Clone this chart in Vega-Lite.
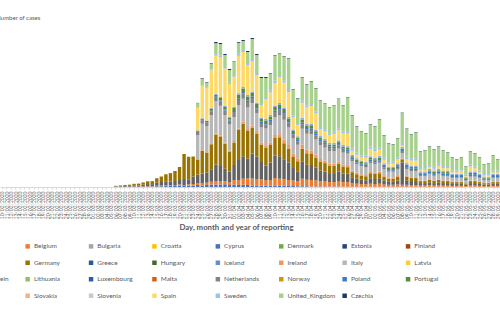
{
  "$schema": "https://vega.github.io/schema/vega-lite/v6.json",
  "width": 504.5,
  "height": 160,
  "autosize": {"type": "none"},
  "padding": {"left": 0, "top": 27, "right": 0, "bottom": 148},
  "background": "white",
  "config": {"view": {"stroke": null}, "font": "Lato", "axis": {"labelFont": "Lato", "titleFont": "Lato"}, "legend": {"labelFont": "Lato"}},
  "data": {"values": [
    {"d": "10/02/2020", "Italy": 0},
    {"d": "11/02/2020", "Italy": 0},
    {"d": "12/02/2020", "Italy": 0},
    {"d": "13/02/2020", "Italy": 0},
    {"d": "14/02/2020", "Italy": 0},
    {"d": "15/02/2020", "Italy": 0},
    {"d": "16/02/2020", "Italy": 0},
    {"d": "17/02/2020", "Italy": 0},
    {"d": "18/02/2020", "Italy": 0},
    {"d": "19/02/2020", "Italy": 0},
    {"d": "20/02/2020", "Italy": 0},
    {"d": "21/02/2020", "Italy": 20},
    {"d": "22/02/2020", "Italy": 60},
    {"d": "23/02/2020", "Italy": 50},
    {"d": "24/02/2020", "Italy": 100},
    {"d": "25/02/2020", "Germany": 5, "Italy": 90, "Spain": 2},
    {"d": "26/02/2020", "France": 15, "Germany": 10, "Italy": 80, "Spain": 5},
    {"d": "27/02/2020", "France": 20, "Germany": 20, "Italy": 200, "Spain": 10},
    {"d": "28/02/2020", "France": 20, "Germany": 25, "Italy": 150, "Netherlands": 5, "Spain": 10},
    {"d": "29/02/2020", "France": 30, "Germany": 40, "Italy": 170, "Spain": 20, "United_Kingdom": 10},
    {"d": "01/03/2020", "France": 40, "Germany": 50, "Italy": 280, "Spain": 20, "United_Kingdom": 10},
    {"d": "02/03/2020", "France": 50, "Germany": 40, "Italy": 300, "Netherlands": 10, "Spain": 30, "United_Kingdom": 10},
    {"d": "03/03/2020", "France": 40, "Germany": 50, "Italy": 350, "Netherlands": 20, "Spain": 40, "United_Kingdom": 10},
    {"d": "04/03/2020", "Belgium": 10, "France": 60, "Germany": 60, "Italy": 400, "Netherlands": 20, "Spain": 40, "United_Kingdom": 20},
    {"d": "05/03/2020", "Belgium": 10, "France": 90, "Germany": 100, "Italy": 600, "Netherlands": 30, "Spain": 60, "United_Kingdom": 20},
    {"d": "06/03/2020", "Austria": 10, "Belgium": 20, "France": 100, "Germany": 110, "Italy": 650, "Netherlands": 30, "Spain": 70, "United_Kingdom": 20},
    {"d": "07/03/2020", "Austria": 20, "Belgium": 20, "France": 120, "Germany": 150, "Italy": 800, "Netherlands": 40, "Spain": 120, "United_Kingdom": 30},
    {"d": "08/03/2020", "Austria": 30, "Belgium": 30, "France": 150, "Germany": 200, "Italy": 950, "Netherlands": 50, "Spain": 150, "United_Kingdom": 40},
    {"d": "09/03/2020", "Austria": 30, "Belgium": 40, "France": 150, "Germany": 250, "Italy": 1000, "Netherlands": 50, "Spain": 250, "United_Kingdom": 30},
    {"d": "10/03/2020", "Austria": 40, "Belgium": 50, "France": 250, "Germany": 300, "Italy": 1500, "Netherlands": 80, "Spain": 500, "Sweden": 30, "United_Kingdom": 50},
    {"d": "11/03/2020", "Austria": 40, "Belgium": 40, "France": 250, "Germany": 350, "Italy": 1400, "Netherlands": 60, "Spain": 400, "United_Kingdom": 60},
    {"d": "12/03/2020", "Austria": 50, "Belgium": 60, "France": 350, "Germany": 450, "Italy": 2300, "Netherlands": 100, "Spain": 600, "Sweden": 40, "United_Kingdom": 50},
    {"d": "13/03/2020", "Austria": 60, "Belgium": 80, "France": 450, "Germany": 550, "Italy": 2300, "Netherlands": 150, "Portugal": 20, "Spain": 850, "Sweden": 60, "United_Kingdom": 80},
    {"d": "14/03/2020", "Austria": 100, "Belgium": 70, "France": 400, "Germany": 600, "Italy": 2500, "Netherlands": 120, "Spain": 900, "Sweden": 40, "United_Kingdom": 70},
    {"d": "15/03/2020", "Austria": 150, "Belgium": 100, "France": 600, "Germany": 900, "Italy": 3200, "Netherlands": 150, "Portugal": 40, "Spain": 1500, "Sweden": 60, "United_Kingdom": 100},
    {"d": "16/03/2020", "Austria": 150, "Belgium": 150, "France": 700, "Germany": 1100, "Italy": 3300, "Netherlands": 180, "Portugal": 50, "Spain": 1500, "Sweden": 70, "United_Kingdom": 150, "Czechia": 50},
    {"d": "17/03/2020", "Austria": 180, "Belgium": 170, "France": 800, "Germany": 1400, "Italy": 3500, "Netherlands": 200, "Portugal": 60, "Spain": 2000, "Sweden": 80, "United_Kingdom": 180, "Czechia": 30},
    {"d": "18/03/2020", "Austria": 200, "Belgium": 180, "France": 700, "Germany": 1700, "Italy": 3500, "Netherlands": 250, "Portugal": 80, "Spain": 2100, "Sweden": 80, "United_Kingdom": 200, "Czechia": 10},
    {"d": "19/03/2020", "Austria": 200, "Belgium": 200, "France": 800, "Germany": 2000, "Italy": 3600, "Netherlands": 300, "Poland": 30, "Portugal": 90, "Spain": 2300, "Sweden": 100, "United_Kingdom": 300, "Czechia": 80},
    {"d": "20/03/2020", "Austria": 250, "Belgium": 250, "France": 900, "Germany": 2600, "Italy": 4000, "Netherlands": 350, "Poland": 50, "Portugal": 150, "Romania": 30, "Spain": 2400, "Sweden": 100, "United_Kingdom": 400, "Czechia": 100},
    {"d": "21/03/2020", "Austria": 200, "Belgium": 200, "France": 1200, "Germany": 5000, "Italy": 6000, "Netherlands": 300, "Poland": 50, "Portugal": 100, "Romania": 50, "Spain": 4500, "Sweden": 100, "United_Kingdom": 600, "Czechia": 100},
    {"d": "22/03/2020", "Austria": 300, "Belgium": 250, "France": 1000, "Germany": 4500, "Italy": 5800, "Netherlands": 400, "Poland": 50, "Portugal": 150, "Romania": 50, "Spain": 4800, "Sweden": 100, "United_Kingdom": 500, "Czechia": 50},
    {"d": "23/03/2020", "Austria": 300, "Belgium": 300, "France": 1500, "Germany": 4000, "Italy": 5500, "Netherlands": 500, "Poland": 60, "Portugal": 150, "Romania": 50, "Spain": 5000, "Sweden": 100, "United_Kingdom": 600, "Czechia": 50},
    {"d": "24/03/2020", "Austria": 400, "Belgium": 300, "France": 1800, "Germany": 3000, "Ireland": 100, "Italy": 4800, "Netherlands": 600, "Poland": 60, "Portugal": 200, "Romania": 60, "Spain": 4500, "Sweden": 150, "United_Kingdom": 800, "Czechia": 50},
    {"d": "25/03/2020", "Austria": 300, "Belgium": 400, "France": 2000, "Germany": 4500, "Ireland": 150, "Italy": 5300, "Netherlands": 700, "Poland": 80, "Portugal": 250, "Romania": 70, "Spain": 6500, "Sweden": 150, "United_Kingdom": 1300, "Czechia": 100},
    {"d": "26/03/2020", "Austria": 400, "Belgium": 450, "France": 2000, "Germany": 4000, "Ireland": 150, "Italy": 5200, "Netherlands": 600, "Poland": 100, "Portugal": 300, "Romania": 100, "Spain": 6500, "Sweden": 150, "United_Kingdom": 950, "Czechia": 100},
    {"d": "27/03/2020", "Austria": 500, "Belgium": 550, "France": 2500, "Germany": 5000, "Ireland": 200, "Italy": 5600, "Netherlands": 800, "Poland": 100, "Portugal": 400, "Romania": 150, "Spain": 7500, "Sweden": 200, "United_Kingdom": 1200, "Czechia": 100},
    {"d": "28/03/2020", "Austria": 500, "Belgium": 600, "France": 3400, "Germany": 6000, "Ireland": 200, "Italy": 6500, "Netherlands": 800, "Poland": 150, "Portugal": 300, "Romania": 200, "Spain": 7600, "Sweden": 300, "United_Kingdom": 2200, "Czechia": 250},
    {"d": "29/03/2020", "Austria": 500, "Belgium": 700, "France": 3000, "Germany": 5800, "Ireland": 250, "Italy": 6000, "Netherlands": 900, "Poland": 150, "Portugal": 500, "Romania": 200, "Spain": 8000, "Sweden": 300, "United_Kingdom": 2300, "Czechia": 200},
    {"d": "30/03/2020", "Austria": 550, "Belgium": 600, "France": 2500, "Germany": 5000, "Ireland": 250, "Italy": 5500, "Netherlands": 900, "Poland": 200, "Portugal": 500, "Romania": 200, "Spain": 7500, "Sweden": 300, "United_Kingdom": 2400, "Czechia": 200},
    {"d": "31/03/2020", "Austria": 400, "Belgium": 500, "France": 2200, "Germany": 4000, "Ireland": 200, "Italy": 5200, "Netherlands": 800, "Poland": 200, "Portugal": 400, "Romania": 200, "Spain": 6500, "Sweden": 300, "United_Kingdom": 2500, "Czechia": 200},
    {"d": "01/04/2020", "Austria": 500, "Belgium": 900, "France": 3000, "Germany": 4500, "Ireland": 300, "Italy": 4800, "Netherlands": 1000, "Poland": 200, "Portugal": 600, "Romania": 250, "Spain": 6000, "Sweden": 350, "United_Kingdom": 2600, "Czechia": 100},
    {"d": "02/04/2020", "Austria": 400, "Belgium": 1000, "France": 4000, "Germany": 6000, "Ireland": 300, "Italy": 4700, "Netherlands": 1000, "Poland": 250, "Portugal": 800, "Romania": 300, "Spain": 7500, "Sweden": 400, "United_Kingdom": 2200, "Czechia": 150},
    {"d": "03/04/2020", "Austria": 450, "Belgium": 1200, "France": 4500, "Germany": 6500, "Ireland": 400, "Italy": 4600, "Netherlands": 1100, "Poland": 250, "Portugal": 700, "Romania": 300, "Spain": 7000, "Sweden": 400, "United_Kingdom": 1800, "Czechia": 200},
    {"d": "04/04/2020", "Austria": 400, "Belgium": 1300, "France": 4000, "Germany": 5500, "Ireland": 400, "Italy": 4300, "Netherlands": 1100, "Poland": 300, "Portugal": 800, "Romania": 300, "Spain": 6000, "Sweden": 400, "United_Kingdom": 2200, "Czechia": 200},
    {"d": "05/04/2020", "Austria": 300, "Belgium": 1400, "France": 5000, "Germany": 5200, "Ireland": 400, "Italy": 4500, "Netherlands": 1000, "Poland": 300, "Portugal": 700, "Romania": 300, "Spain": 6000, "Sweden": 500, "United_Kingdom": 4000, "Czechia": 200},
    {"d": "06/04/2020", "Austria": 300, "Belgium": 1300, "France": 4500, "Germany": 4500, "Ireland": 400, "Italy": 3800, "Netherlands": 900, "Poland": 300, "Portugal": 600, "Romania": 300, "Spain": 5500, "Sweden": 400, "United_Kingdom": 3600, "Czechia": 200},
    {"d": "07/04/2020", "Austria": 300, "Belgium": 1200, "France": 3500, "Germany": 3500, "Ireland": 400, "Italy": 3000, "Netherlands": 900, "Poland": 300, "Portugal": 500, "Romania": 300, "Spain": 2500, "Sweden": 400, "United_Kingdom": 5000, "Czechia": 200},
    {"d": "08/04/2020", "Austria": 300, "Belgium": 1000, "France": 3000, "Germany": 3500, "Ireland": 400, "Italy": 3500, "Netherlands": 800, "Poland": 300, "Portugal": 500, "Romania": 300, "Spain": 4000, "Sweden": 400, "United_Kingdom": 3800, "Czechia": 200},
    {"d": "09/04/2020", "Austria": 300, "Belgium": 1100, "France": 3500, "Germany": 3500, "Ireland": 500, "Italy": 3500, "Netherlands": 800, "Poland": 300, "Portugal": 600, "Romania": 300, "Spain": 4500, "Sweden": 400, "United_Kingdom": 3400, "Czechia": 100},
    {"d": "10/04/2020", "Austria": 300, "Belgium": 1500, "France": 4500, "Germany": 3500, "Ireland": 600, "Italy": 3600, "Netherlands": 1000, "Poland": 300, "Portugal": 700, "Romania": 300, "Spain": 4500, "Sweden": 500, "United_Kingdom": 5000, "Czechia": 100},
    {"d": "11/04/2020", "Austria": 250, "Belgium": 1400, "France": 4500, "Germany": 3800, "Ireland": 600, "Italy": 3800, "Netherlands": 1100, "Poland": 350, "Portugal": 700, "Romania": 300, "Spain": 5200, "Sweden": 400, "United_Kingdom": 4200, "Czechia": 100},
    {"d": "12/04/2020", "Austria": 250, "Belgium": 1300, "France": 4000, "Germany": 3200, "Ireland": 700, "Italy": 4000, "Netherlands": 1200, "Poland": 350, "Portugal": 600, "Romania": 300, "Spain": 5000, "Sweden": 400, "United_Kingdom": 4800, "Czechia": 100},
    {"d": "13/04/2020", "Austria": 200, "Belgium": 1200, "France": 3500, "Germany": 2800, "Ireland": 700, "Italy": 3500, "Netherlands": 1000, "Poland": 300, "Portugal": 500, "Romania": 300, "Spain": 5000, "Sweden": 400, "United_Kingdom": 6300, "Czechia": 100},
    {"d": "14/04/2020", "Austria": 200, "Belgium": 1100, "France": 2500, "Germany": 2200, "Ireland": 700, "Italy": 3000, "Netherlands": 800, "Poland": 300, "Portugal": 400, "Romania": 300, "Spain": 2500, "Sweden": 300, "United_Kingdom": 5200, "Czechia": 100},
    {"d": "15/04/2020", "Austria": 150, "Belgium": 1000, "France": 2000, "Germany": 2000, "Ireland": 600, "Italy": 2700, "Netherlands": 700, "Poland": 300, "Portugal": 400, "Romania": 300, "Spain": 2300, "Sweden": 350, "United_Kingdom": 4900, "Czechia": 100},
    {"d": "16/04/2020", "Austria": 150, "Belgium": 1500, "France": 3500, "Germany": 2500, "Ireland": 800, "Italy": 3200, "Netherlands": 900, "Poland": 350, "Portugal": 600, "Romania": 350, "Spain": 3000, "Sweden": 400, "United_Kingdom": 4650, "Czechia": 100},
    {"d": "17/04/2020", "Austria": 150, "Belgium": 1300, "France": 3000, "Germany": 2300, "Ireland": 700, "Italy": 3200, "Netherlands": 800, "Poland": 350, "Portugal": 500, "Romania": 350, "Spain": 3300, "Sweden": 350, "United_Kingdom": 4200, "Czechia": 100},
    {"d": "18/04/2020", "Austria": 100, "Belgium": 1300, "France": 3000, "Germany": 2200, "Ireland": 700, "Italy": 3300, "Netherlands": 800, "Poland": 350, "Portugal": 600, "Romania": 350, "Spain": 3500, "Sweden": 400, "United_Kingdom": 4500, "Czechia": 100},
    {"d": "19/04/2020", "Austria": 100, "Belgium": 1200, "France": 2600, "Germany": 2000, "Ireland": 600, "Italy": 3000, "Netherlands": 800, "Poland": 350, "Portugal": 500, "Romania": 350, "Spain": 3200, "Sweden": 400, "United_Kingdom": 4600, "Czechia": 100},
    {"d": "20/04/2020", "Austria": 100, "Belgium": 1000, "France": 2200, "Germany": 1800, "Ireland": 500, "Italy": 2800, "Netherlands": 700, "Poland": 350, "Portugal": 400, "Romania": 350, "Spain": 1300, "Sweden": 300, "United_Kingdom": 5400, "Czechia": 100},
    {"d": "21/04/2020", "Austria": 80, "Belgium": 1000, "France": 2000, "Germany": 1700, "Ireland": 500, "Italy": 2600, "Netherlands": 700, "Poland": 300, "Portugal": 400, "Romania": 350, "Spain": 1500, "Sweden": 300, "United_Kingdom": 5300, "Czechia": 70},
    {"d": "22/04/2020", "Austria": 80, "Belgium": 900, "France": 1800, "Germany": 1500, "Ireland": 400, "Italy": 2500, "Netherlands": 600, "Poland": 300, "Portugal": 400, "Romania": 350, "Spain": 1500, "Sweden": 300, "United_Kingdom": 5300, "Czechia": 70},
    {"d": "23/04/2020", "Austria": 80, "Belgium": 900, "France": 1800, "Germany": 1500, "Ireland": 400, "Italy": 2500, "Netherlands": 600, "Poland": 300, "Portugal": 400, "Romania": 350, "Spain": 1800, "Sweden": 400, "United_Kingdom": 5300, "Czechia": 70},
    {"d": "24/04/2020", "Austria": 80, "Belgium": 1000, "France": 2000, "Germany": 1600, "Ireland": 400, "Italy": 2600, "Netherlands": 600, "Poland": 300, "Portugal": 400, "Romania": 350, "Spain": 2000, "Sweden": 400, "United_Kingdom": 5900, "Czechia": 70},
    {"d": "25/04/2020", "Austria": 70, "Belgium": 900, "France": 1700, "Germany": 1400, "Ireland": 400, "Italy": 2400, "Netherlands": 550, "Poland": 300, "Portugal": 350, "Romania": 350, "Spain": 2300, "Sweden": 400, "United_Kingdom": 5200, "Czechia": 80},
    {"d": "26/04/2020", "Austria": 70, "Belgium": 900, "France": 1700, "Germany": 1300, "Ireland": 400, "Italy": 2300, "Netherlands": 500, "Poland": 300, "Portugal": 350, "Romania": 350, "Spain": 2500, "Sweden": 500, "United_Kingdom": 6750, "Czechia": 80},
    {"d": "27/04/2020", "Austria": 60, "Belgium": 700, "France": 1200, "Germany": 1000, "Ireland": 300, "Italy": 1900, "Netherlands": 400, "Poland": 300, "Portugal": 300, "Romania": 300, "Spain": 800, "Sweden": 400, "United_Kingdom": 6650, "Czechia": 90},
    {"d": "28/04/2020", "Austria": 60, "Belgium": 600, "France": 1000, "Germany": 900, "Ireland": 300, "Italy": 1700, "Netherlands": 350, "Poland": 300, "Portugal": 250, "Romania": 300, "Spain": 700, "Sweden": 400, "United_Kingdom": 5260, "Czechia": 80},
    {"d": "29/04/2020", "Austria": 50, "Belgium": 550, "France": 900, "Germany": 800, "Ireland": 250, "Italy": 1600, "Netherlands": 300, "Poland": 300, "Portugal": 250, "Romania": 300, "Spain": 600, "Sweden": 400, "United_Kingdom": 4820, "Czechia": 80},
    {"d": "30/04/2020", "Austria": 50, "Belgium": 500, "France": 800, "Germany": 800, "Ireland": 250, "Italy": 1500, "Netherlands": 300, "Poland": 300, "Portugal": 250, "Romania": 300, "Spain": 800, "Sweden": 400, "United_Kingdom": 4470, "Czechia": 80},
    {"d": "01/05/2020", "Austria": 50, "Belgium": 600, "France": 1100, "Germany": 1000, "Ireland": 250, "Italy": 1800, "Netherlands": 350, "Poland": 350, "Portugal": 300, "Romania": 350, "Spain": 1500, "Sweden": 450, "United_Kingdom": 4420, "Czechia": 80},
    {"d": "02/05/2020", "Austria": 50, "Belgium": 550, "France": 1000, "Germany": 1000, "Ireland": 250, "Italy": 1700, "Netherlands": 350, "Poland": 350, "Portugal": 300, "Romania": 350, "Spain": 1300, "Sweden": 450, "United_Kingdom": 4470, "Czechia": 80},
    {"d": "03/05/2020", "Austria": 50, "Belgium": 600, "France": 1100, "Germany": 1000, "Ireland": 300, "Italy": 1800, "Netherlands": 400, "Poland": 350, "Portugal": 300, "Romania": 350, "Spain": 1200, "Sweden": 500, "United_Kingdom": 5570, "Czechia": 80},
    {"d": "04/05/2020", "Austria": 40, "Belgium": 450, "France": 800, "Germany": 700, "Ireland": 200, "Italy": 1400, "Netherlands": 300, "Poland": 300, "Portugal": 250, "Romania": 300, "Spain": 700, "Sweden": 400, "United_Kingdom": 4480, "Czechia": 80},
    {"d": "05/05/2020", "Austria": 40, "Belgium": 400, "France": 600, "Germany": 600, "Ireland": 200, "Italy": 1200, "Netherlands": 250, "Poland": 300, "Portugal": 200, "Romania": 300, "Spain": 500, "Sweden": 350, "United_Kingdom": 3780, "Czechia": 80},
    {"d": "06/05/2020", "Austria": 40, "Belgium": 400, "France": 600, "Germany": 600, "Ireland": 200, "Italy": 1200, "Netherlands": 250, "Poland": 300, "Portugal": 200, "Romania": 300, "Spain": 600, "Sweden": 350, "United_Kingdom": 3480, "Czechia": 80},
    {"d": "07/05/2020", "Austria": 40, "Belgium": 450, "France": 800, "Germany": 700, "Ireland": 200, "Italy": 1300, "Netherlands": 300, "Poland": 350, "Portugal": 250, "Romania": 350, "Spain": 800, "Sweden": 400, "United_Kingdom": 3780, "Czechia": 80},
    {"d": "08/05/2020", "Austria": 40, "Belgium": 400, "France": 4500, "Germany": 600, "Ireland": 200, "Italy": 1000, "Netherlands": 300, "Poland": 350, "Portugal": 300, "Romania": 300, "Spain": 300, "Sweden": 500, "United_Kingdom": 6000, "Czechia": 80},
    {"d": "09/05/2020", "Austria": 40, "Belgium": 400, "France": 900, "Germany": 700, "Ireland": 200, "Italy": 1300, "Netherlands": 300, "Poland": 350, "Portugal": 250, "Romania": 350, "Spain": 800, "Sweden": 450, "United_Kingdom": 5580, "Czechia": 80},
    {"d": "10/05/2020", "Austria": 40, "Belgium": 350, "France": 800, "Germany": 600, "Ireland": 150, "Italy": 1200, "Netherlands": 250, "Poland": 350, "Portugal": 250, "Romania": 300, "Spain": 1000, "Sweden": 450, "United_Kingdom": 4780, "Czechia": 80},
    {"d": "11/05/2020", "Austria": 40, "Belgium": 350, "France": 800, "Germany": 600, "Ireland": 150, "Italy": 1200, "Netherlands": 250, "Poland": 350, "Portugal": 250, "Romania": 300, "Spain": 1000, "Sweden": 450, "United_Kingdom": 5180, "Czechia": 80},
    {"d": "12/05/2020", "Austria": 30, "Belgium": 250, "France": 500, "Germany": 400, "Ireland": 100, "Italy": 900, "Netherlands": 200, "Poland": 300, "Portugal": 200, "Romania": 250, "Spain": 300, "Sweden": 350, "United_Kingdom": 3350, "Czechia": 70},
    {"d": "13/05/2020", "Austria": 30, "Belgium": 250, "France": 500, "Germany": 400, "Ireland": 100, "Italy": 900, "Netherlands": 200, "Poland": 300, "Portugal": 200, "Romania": 250, "Spain": 300, "Sweden": 350, "United_Kingdom": 3550, "Czechia": 70},
    {"d": "14/05/2020", "Austria": 30, "Belgium": 300, "France": 600, "Germany": 500, "Ireland": 100, "Italy": 1000, "Netherlands": 200, "Poland": 350, "Portugal": 250, "Romania": 300, "Spain": 400, "Sweden": 400, "United_Kingdom": 3700, "Czechia": 70},
    {"d": "15/05/2020", "Austria": 30, "Belgium": 250, "France": 500, "Germany": 450, "Ireland": 100, "Italy": 900, "Netherlands": 200, "Poland": 350, "Portugal": 250, "Romania": 300, "Spain": 300, "Sweden": 400, "United_Kingdom": 3500, "Czechia": 70},
    {"d": "16/05/2020", "Austria": 30, "Belgium": 300, "France": 600, "Germany": 500, "Ireland": 100, "Italy": 1000, "Netherlands": 200, "Poland": 350, "Portugal": 250, "Romania": 300, "Spain": 600, "Sweden": 400, "United_Kingdom": 3500, "Czechia": 70},
    {"d": "17/05/2020", "Austria": 30, "Belgium": 250, "France": 500, "Germany": 400, "Ireland": 100, "Italy": 900, "Netherlands": 200, "Poland": 350, "Portugal": 250, "Romania": 300, "Spain": 500, "Sweden": 400, "United_Kingdom": 3150, "Czechia": 70},
    {"d": "18/05/2020", "Austria": 30, "Belgium": 250, "France": 500, "Germany": 400, "Ireland": 100, "Italy": 900, "Netherlands": 200, "Poland": 350, "Portugal": 250, "Romania": 300, "Spain": 500, "Sweden": 400, "United_Kingdom": 2750, "Czechia": 70},
    {"d": "19/05/2020", "Austria": 30, "Belgium": 200, "France": 400, "Germany": 350, "Ireland": 80, "Italy": 700, "Netherlands": 150, "Poland": 300, "Portugal": 200, "Romania": 250, "Spain": 300, "Sweden": 350, "United_Kingdom": 2620, "Czechia": 70},
    {"d": "20/05/2020", "Austria": 30, "Belgium": 200, "France": 400, "Germany": 350, "Ireland": 80, "Italy": 700, "Netherlands": 150, "Poland": 300, "Portugal": 200, "Romania": 250, "Spain": 300, "Sweden": 350, "United_Kingdom": 2220, "Czechia": 70},
    {"d": "21/05/2020", "Austria": 30, "Belgium": 200, "France": 400, "Germany": 350, "Ireland": 80, "Italy": 700, "Netherlands": 150, "Poland": 300, "Portugal": 200, "Romania": 250, "Spain": 600, "Sweden": 350, "United_Kingdom": 2320, "Czechia": 70},
    {"d": "22/05/2020", "Austria": 20, "Belgium": 150, "France": 300, "Germany": 250, "Ireland": 60, "Italy": 500, "Netherlands": 100, "Poland": 250, "Portugal": 150, "Romania": 200, "Spain": 200, "Sweden": 300, "United_Kingdom": 1660, "Czechia": 60},
    {"d": "23/05/2020", "Austria": 30, "Belgium": 250, "France": 500, "Germany": 400, "Ireland": 80, "Italy": 800, "Netherlands": 150, "Poland": 350, "Portugal": 250, "Romania": 300, "Spain": 1000, "Sweden": 400, "United_Kingdom": 2620, "Czechia": 70},
    {"d": "24/05/2020", "Austria": 30, "Belgium": 250, "France": 500, "Germany": 400, "Ireland": 80, "Italy": 800, "Netherlands": 150, "Poland": 350, "Portugal": 250, "Romania": 300, "Spain": 600, "Sweden": 400, "United_Kingdom": 2620, "Czechia": 70},
    {"d": "25/05/2020", "Austria": 30, "Belgium": 200, "France": 400, "Germany": 350, "Ireland": 80, "Italy": 700, "Netherlands": 150, "Poland": 300, "Portugal": 200, "Romania": 250, "Spain": 300, "Sweden": 350, "United_Kingdom": 2620, "Czechia": 70},
    {"d": "26/05/2020", "Austria": 20, "Belgium": 150, "France": 300, "Germany": 300, "Ireland": 60, "Italy": 500, "Netherlands": 100, "Poland": 250, "Portugal": 200, "Romania": 200, "Spain": 200, "Sweden": 300, "United_Kingdom": 1960, "Czechia": 60},
    {"d": "27/05/2020", "Austria": 20, "Belgium": 150, "France": 300, "Germany": 300, "Ireland": 60, "Italy": 500, "Netherlands": 100, "Poland": 250, "Portugal": 200, "Romania": 200, "Spain": 200, "Sweden": 300, "United_Kingdom": 2160, "Czechia": 60},
    {"d": "28/05/2020", "Austria": 30, "Belgium": 200, "France": 400, "Germany": 350, "Ireland": 80, "Italy": 700, "Netherlands": 150, "Poland": 300, "Portugal": 200, "Romania": 250, "Spain": 300, "Sweden": 350, "United_Kingdom": 3020, "Czechia": 70},
    {"d": "29/05/2020", "Austria": 30, "Belgium": 200, "France": 400, "Germany": 350, "Ireland": 80, "Italy": 700, "Netherlands": 150, "Poland": 300, "Portugal": 200, "Romania": 250, "Spain": 300, "Sweden": 350, "United_Kingdom": 2220, "Czechia": 70},
    {"d": "30/05/2020", "Austria": 30, "Belgium": 250, "France": 600, "Germany": 500, "Ireland": 100, "Italy": 900, "Netherlands": 200, "Poland": 350, "Portugal": 250, "Romania": 300, "Spain": 500, "Sweden": 400, "United_Kingdom": 4550, "Czechia": 70}
  ]},
  "transform": [
    {"fold": ["Austria", "Belgium", "France", "Germany", "Ireland", "Italy", "Netherlands", "Poland", "Portugal", "Romania", "Spain", "Sweden", "United_Kingdom", "Czechia"], "as": ["country", "cases"]},
    {"lookup": "country", "from": {"data": {"values": [
      {"country": "Austria", "rank": 1}, {"country": "Belgium", "rank": 2}, {"country": "France", "rank": 9}, {"country": "Germany", "rank": 10},
      {"country": "Ireland", "rank": 14}, {"country": "Italy", "rank": 15}, {"country": "Netherlands", "rank": 21}, {"country": "Poland", "rank": 23},
      {"country": "Portugal", "rank": 24}, {"country": "Romania", "rank": 25}, {"country": "Spain", "rank": 28}, {"country": "Sweden", "rank": 29},
      {"country": "United_Kingdom", "rank": 30}, {"country": "Czechia", "rank": 31}
    ]}, "key": "country", "fields": ["rank"]}}
  ],
  "mark": {"type": "bar"},
  "encoding": {
    "x": {
      "field": "d", "type": "ordinal", "sort": null,
      "scale": {"paddingInner": 0.25, "paddingOuter": 0.125},
      "axis": {
        "labelAngle": -90, "labelAlign": "right", "labelBaseline": "middle",
        "labelFontSize": 5, "labelColor": "#595959", "labelPadding": 2,
        "labelOverlap": false, "labelBound": false, "labelFlush": false,
        "labelExpression": "round(datum.index * 110) % 2 === 0 ? datum.label : ''",
        "ticks": true, "tickSize": 2, "tickColor": "#d9d9d9", "domainColor": "#d9d9d9",
        "title": "Day, month and year of reporting", "titleFontSize": 7.8, "titleFontWeight": "bold",
        "titleColor": "#595959", "titleX": 236, "titleY": 42, "titleBaseline": "alphabetic", "titleAlign": "center"
      }
    },
    "y": {
      "field": "cases", "type": "quantitative", "stack": "zero",
      "scale": {"domain": [0, 32000]},
      "axis": {
        "title": "Number of cases", "titleAngle": 0, "titleAlign": "left", "titleBaseline": "middle",
        "titleX": -4.2, "titleY": -10, "titleFontSize": 6, "titleFontWeight": "normal", "titleColor": "#595959",
        "labels": false, "ticks": false, "domain": false, "grid": false
      }
    },
    "color": {
      "field": "country", "type": "nominal",
      "scale": {
        "domain": ["Austria", "Belgium", "Bulgaria", "Croatia", "Cyprus", "Denmark", "Estonia", "Finland", "France", "Germany", "Greece", "Hungary", "Iceland", "Ireland", "Italy", "Latvia", "Liechtenstein", "Lithuania", "Luxembourg", "Malta", "Netherlands", "Norway", "Poland", "Portugal", "Romania", "Slovakia", "Slovenia", "Spain", "Sweden", "United_Kingdom", "Czechia"],
        "range": ["#4472C4", "#ED7D31", "#A5A5A5", "#FFC000", "#4472C4", "#70AD47", "#264478", "#9E480E", "#636363", "#997300", "#255E91", "#43682B", "#698ED0", "#F1975A", "#B7B7B7", "#FFCD33", "#7CAFDD", "#8CC168", "#335AA1", "#D26012", "#848484", "#CC9A00", "#3A7CC0", "#5A8A39", "#8FAADC", "#F4B183", "#C9C9C9", "#FFD966", "#9DC3E6", "#A9D18E", "#203864"]
      },
      "legend": {
        "orient": "none", "legendX": -39, "legendY": 216, "direction": "horizontal", "columns": 8,
        "title": null, "symbolType": "square", "symbolSize": 20, "symbolStrokeWidth": 0, "symbolOpacity": 1,
        "labelFontSize": 6.5, "labelColor": "#595959", "labelOffset": 3, "labelLimit": 200,
        "gridAlign": "all", "columnPadding": 5.4, "rowPadding": 9.5, "padding": 0, "symbolLimit": 40
      }
    },
    "order": {"field": "rank", "type": "quantitative"}
  }
}
